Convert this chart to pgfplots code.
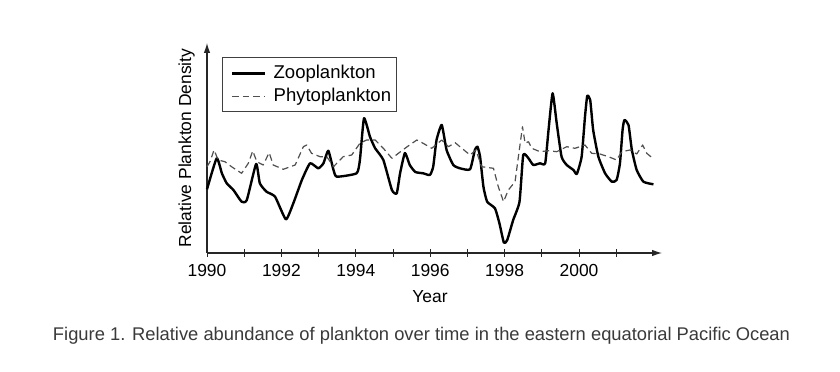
\documentclass[border=0pt]{standalone}
\usepackage{pgfplots}
\pgfplotsset{compat=1.18}
\usepackage{pgfplotstable}
\usepackage{fontspec}
\setmainfont{Liberation Sans}
\usetikzlibrary{arrows.meta}
\definecolor{capgray}{HTML}{3A3A3A}
\definecolor{phyto}{HTML}{505050}

\pgfplotstableread{
year   y
1990.00 63.7
1990.26 94.7
1990.40 79.7
1990.53 69.7
1990.71 63.0
1990.93 51.3
1991.07 53.0
1991.32 89.0
1991.42 69.7
1991.60 61.3
1991.83 56.3
1992.12 33.7
1992.32 49.7
1992.55 73.0
1992.77 89.7
1992.99 84.7
1993.13 89.7
1993.26 102.3
1993.40 83.0
1993.49 76.3
1994.02 79.7
1994.11 93.0
1994.22 134.7
1994.38 116.3
1994.52 104.7
1994.74 93.0
1994.97 63.0
1995.10 59.7
1995.19 79.7
1995.32 100.0
1995.45 88.0
1995.60 81.0
1995.81 79.7
1995.99 78.0
1996.08 86.3
1996.17 113.0
1996.31 128.0
1996.44 103.0
1996.62 88.0
1996.80 84.7
1997.07 83.7
1997.20 103.0
1997.27 106.3
1997.34 96.3
1997.43 66.3
1997.53 51.3
1997.74 44.7
1997.86 29.7
1997.98 10.3
1998.07 13.0
1998.23 33.0
1998.40 51.3
1998.50 98.0
1998.64 94.7
1998.77 88.0
1998.95 89.7
1999.09 89.7
1999.18 123.0
1999.29 159.7
1999.40 129.7
1999.53 96.3
1999.67 88.0
1999.85 83.0
1999.94 79.0
2000.07 96.3
2000.16 136.3
2000.22 157.0
2000.30 153.0
2000.38 123.0
2000.52 96.3
2000.70 79.7
2000.88 71.3
2001.01 73.0
2001.10 89.7
2001.17 123.0
2001.22 133.0
2001.33 128.0
2001.42 103.0
2001.55 83.0
2001.73 71.3
2002.00 68.7
}\zoo

\pgfplotstableread{
year   y
1990.00 86.3
1990.08 91.3
1990.19 103.0
1990.30 93.0
1990.48 91.3
1990.66 86.3
1990.93 79.7
1991.11 89.7
1991.23 102.0
1991.34 91.3
1991.51 88.0
1991.67 100.3
1991.78 88.0
1992.05 83.7
1992.37 88.0
1992.59 106.3
1992.68 108.0
1992.81 99.7
1993.04 96.3
1993.22 96.3
1993.40 86.3
1993.66 96.3
1993.89 98.0
1994.11 109.7
1994.29 113.0
1994.52 113.0
1994.74 104.7
1994.97 94.7
1995.19 101.0
1995.37 106.0
1995.64 113.0
1995.81 109.7
1996.04 104.7
1996.31 113.0
1996.49 106.3
1996.67 110.3
1996.85 104.7
1997.07 98.0
1997.23 103.0
1997.38 86.3
1997.70 84.7
1997.83 66.3
1997.97 51.3
1998.10 63.0
1998.28 71.3
1998.37 96.3
1998.48 126.3
1998.55 109.7
1998.64 111.3
1998.73 104.7
1998.95 101.3
1999.18 102.3
1999.40 101.3
1999.67 106.3
1999.89 104.7
2000.16 108.0
2000.34 99.7
2000.56 99.0
2000.79 96.3
2001.01 93.0
2001.15 101.3
2001.37 103.0
2001.55 99.0
2001.71 108.0
2001.82 99.7
2001.95 95.7
}\phyto

\begin{document}
\begin{tikzpicture}
\path[use as bounding box, fill=white] (0,0) rectangle (840bp,372bp);
\begin{axis}[
  at={(207bp,119bp)}, anchor=south west,
  scale only axis, width=455bp, height=210bp,
  xmin=1990, xmax=2002.23, ymin=0, ymax=210,
  axis lines=left,
  axis line style={line width=1.1bp, black!85, -{Latex[length=10bp,width=6.5bp]}},
  xtick={1990,1991,...,2001},
  xticklabels={1990,,1992,,1994,,1996,,1998,,2000,},
  ytick=\empty,
  tick align=center,
  major tick length=8bp,
  tick style={line width=1bp, black!85},
  /pgf/number format/assume math mode=true,
  ticklabel style={font=\fontsize{17.5}{20}\selectfont},
  xticklabel style={yshift=-4bp},
  xlabel={Year},
  xlabel style={at={(axis description cs:0.49,0)}, anchor=center, yshift=-44bp, font=\fontsize{17.5}{20}\selectfont},
  ylabel={Relative Plankton Density},
  ylabel style={at={(axis description cs:-0.045,0.5)}, anchor=center, font=\fontsize{17.5}{20}\selectfont},
  legend style={at={(axis description cs:0.0323,0.932)}, anchor=north west,
    draw=black!75, line width=1.1bp, font=\fontsize{18.6}{21.5}\selectfont,
    inner xsep=5bp, inner ysep=6bp, row sep=4bp, column sep=0bp,
    nodes={inner sep=0bp, text height=15bp, text depth=4bp}},
  legend cell align=left,
  legend image code/.code={\draw[#1] (4bp,0bp) -- (37bp,0bp); \path (0bp,0bp) (44bp,0bp);},
  clip=false,
]
\addplot[black, line width=2.4bp, line join=round, smooth, tension=0.3] table[x=year,y=y] {\zoo};
\addlegendentry{Zooplankton}
\addplot[phyto, line width=1.2bp, dash pattern=on 6.5bp off 4bp, line join=round] table[x=year,y=y] {\phyto};
\addlegendentry{Phytoplankton}
\end{axis}
\node[anchor=base, text=capgray] at (421.5bp, 31.3bp) {\resizebox{737bp}{13.3bp}{Figure 1. Relative abundance of plankton over time in the eastern equatorial Pacific Ocean}};
\end{tikzpicture}
\end{document}
